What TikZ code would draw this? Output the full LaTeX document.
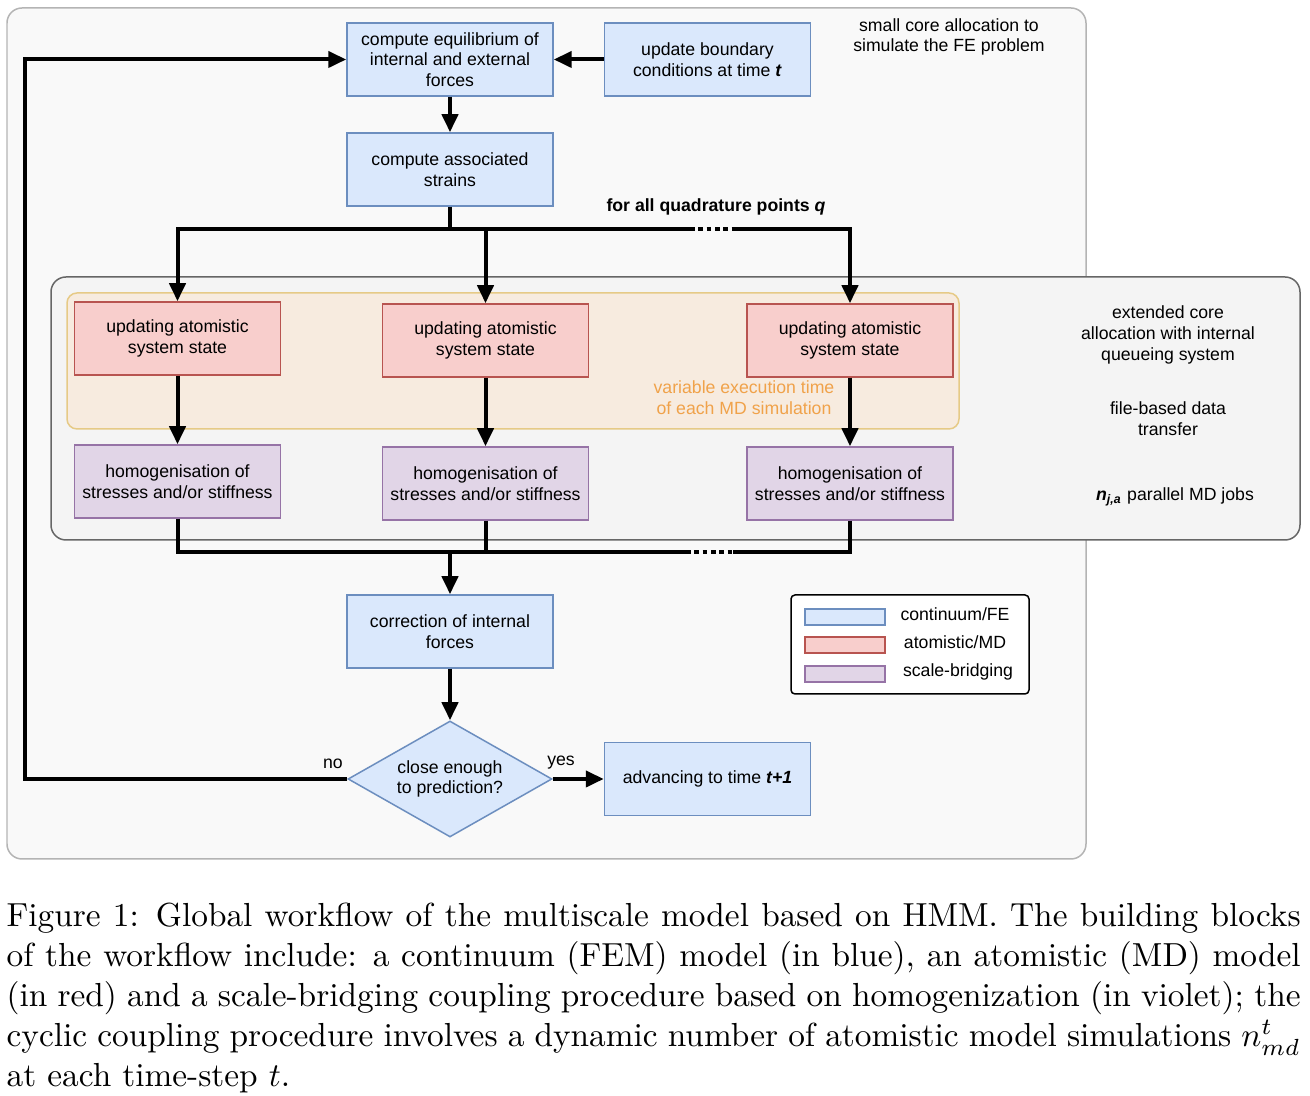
\documentclass[tikz,border=0pt]{standalone}
\usepackage{fontspec}
\newfontfamily\diagfont{Liberation Sans}
\usetikzlibrary{arrows.meta,positioning,shapes.geometric}
\definecolor{feFill}{HTML}{DAE8FC}
\definecolor{feLine}{HTML}{6C8EBF}
\definecolor{mdFill}{HTML}{F8CECC}
\definecolor{mdLine}{HTML}{B85450}
\definecolor{brFill}{HTML}{E1D5E7}
\definecolor{brLine}{HTML}{9673A6}
\definecolor{coreFill}{HTML}{F9F9F9}
\definecolor{coreLine}{HTML}{B4B4B4}
\definecolor{jobFill}{HTML}{F4F4F4}
\definecolor{jobLine}{HTML}{666666}
\definecolor{varFill}{HTML}{F7EBDF}
\definecolor{varLine}{HTML}{E6CA86}
\definecolor{varText}{HTML}{F0A24A}
\tikzset{
      febox/.style={
        draw=feLine,
        fill=feFill,
        line width=0.45pt,
        minimum width=61.8pt,
        minimum height=21.9pt,
        inner sep=0pt,
        align=center
      },
      mdbox/.style={febox, draw=mdLine, fill=mdFill},
      bridgebox/.style={febox, draw=brLine, fill=brFill},
      flow/.style={line width=1.2pt, -{Triangle[length=5.4pt,width=4.8pt]}},
      link/.style={line width=1.2pt},
      dots/.style={line width=1.2pt, dash pattern=on 1.4pt off 1.1pt},
      note/.style={align=center, inner sep=0pt}
    }

\begin{document}
\begin{tikzpicture}[x=0.3pt,y=-0.3pt,font={\diagfont\fontsize{5.3}{6.2}\selectfont}]
    \useasboundingbox (0,0) rectangle (1310,1096);
    % allocation regions
    \draw[draw=coreLine, fill=coreFill, line width=0.45pt, rounded corners=4.5pt] (7,8) rectangle (1086,859);
    \draw[draw=jobLine, fill=jobFill, line width=0.45pt, rounded corners=4.5pt] (51,277) rectangle (1300,540);
    \draw[draw=varLine, fill=varFill, line width=0.45pt, rounded corners=3pt] (67,293) rectangle (959,429);

    \node[note] (small) at (949,37) {small core allocation to\\simulate the FE problem};
    \node[note] (ext) at (1168,335) {extended core\\allocation with internal\\queueing system};
    \node[note] (file) at (1168,419) {file-based data\\transfer};
    \node[note] (jobs) at (1175,497) {\textbf{\textit{n}}\textsubscript{\textbf{\textit{j,a}}} parallel MD jobs};
    \node[note, text=varText] (var) at (744,398) {variable execution time\\of each MD simulation};

    % continuum part
    \node[febox] (eq) at (450,59.5) {compute equilibrium of\\internal and external\\forces};
    \node[febox] (bc) at (707.5,59.5) {update boundary\\conditions at time \textbf{\textit{t}}};
    \node[febox] (strains) at (450,169.5) {compute associated\\strains};
    \node[note, font={\diagfont\bfseries\fontsize{5.3}{6.2}\selectfont}] (quad) at (716,207) {for all quadrature points \textit{q}};

    % atomistic jobs
    \node[mdbox] (md1) at (177.5,338.5) {updating atomistic\\system state};
    \node[mdbox] (md2) at (485.5,340.5) {updating atomistic\\system state};
    \node[mdbox] (md3) at (850,340.5) {updating atomistic\\system state};
    \node[bridgebox] (hom1) at (177.5,481.5) {homogenisation of\\stresses and/or stiffness};
    \node[bridgebox] (hom2) at (485.5,483.5) {homogenisation of\\stresses and/or stiffness};
    \node[bridgebox] (hom3) at (850,483.5) {homogenisation of\\stresses and/or stiffness};

    \node[febox] (corr) at (450,631.5) {correction of internal\\forces};
    \node[febox, shape=diamond, aspect=1.76, minimum width=61.2pt, minimum height=34.8pt] (check) at (450,779) {close enough\\to prediction?};
    \node[febox] (adv) at (707.5,779) {advancing to time \textbf{\textit{t+1}}};

    % split and merge points
    \coordinate (split) at (450,229);
    \coordinate (splitA) at (690,229);
    \coordinate (splitB) at (736,229);
    \coordinate (merge) at (450,552);
    \coordinate (mergeA) at (686,552);
    \coordinate (mergeB) at (733,552);
    \coordinate (back) at (25,0);

    \draw[flow] (bc.west) -- (eq.east);
    \draw[flow] (eq.south) -- (strains.north);
    \draw[link] (strains.south) -- (split);
    \draw[flow] (splitA) -- (split -| md1.north) -- (md1.north);
    \draw[flow] (split -| md2.north) -- (md2.north);
    \draw[flow] (splitB) -- (split -| md3.north) -- (md3.north);
    \draw[dots] (splitA) -- (splitB);

    \draw[flow] (md1.south) -- (hom1.north);
    \draw[flow] (md2.south) -- (hom2.north);
    \draw[flow] (md3.south) -- (hom3.north);

    \draw[link] (hom1.south) -- (merge -| hom1.south) -- (mergeA);
    \draw[link] (hom2.south) -- (merge -| hom2.south);
    \draw[link] (hom3.south) -- (merge -| hom3.south) -- (mergeB);
    \draw[dots] (mergeA) -- (mergeB);
    \draw[flow] (merge) -- (corr.north);

    \draw[flow] (corr.south) -- (check.north);
    \draw[flow] (check.east) -- (adv.west);
    \draw[flow] (check.west) -- (check.west -| back) -- (eq.west -| back) -- (eq.west);
    \node[note] (yes) at (561,763) {yes};
    \node[note] (no) at (333,764) {no};

    % legend
    \draw[line width=0.45pt, fill=white, rounded corners=1.2pt] (791,595) rectangle (1029,694);
    \draw[draw=feLine, fill=feFill, line width=0.45pt] (805,609) rectangle (885,625);
    \draw[draw=mdLine, fill=mdFill, line width=0.45pt] (805,637) rectangle (885,653);
    \draw[draw=brLine, fill=brFill, line width=0.45pt] (805,666) rectangle (885,682);
    \node[note] (legFE) at (955,614) {continuum/FE};
    \node[note] (legMD) at (955,642) {atomistic/MD};
    \node[note] (legSB) at (958,672) {scale-bridging};

    % caption
    \node[anchor=north west, inner sep=0pt, text width=388.2pt, align=justify, font={\rmfamily\fontsize{10}{12}\selectfont}] (cap) at (6,902) {Figure 1: Global workflow of the multiscale model based on HMM. The building blocks of the workflow include: a continuum (FEM) model (in blue), an atomistic (MD) model (in red) and a scale-bridging coupling procedure based on homogenization (in violet); the cyclic coupling procedure involves a dynamic number of atomistic model simulations $n_{md}^t$ at each time-step $t$.};
    \end{tikzpicture}
\end{document}
